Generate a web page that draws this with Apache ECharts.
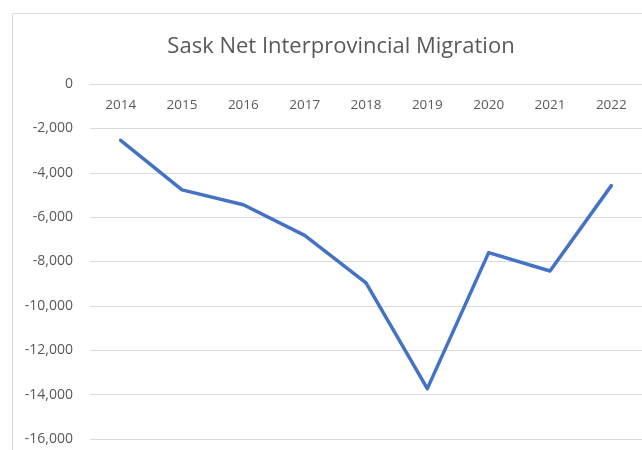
<!DOCTYPE html>
<html>
<head>
<meta charset="utf-8">
<script src="https://cdn.jsdelivr.net/npm/echarts@6/dist/echarts.min.js"></script>
<style>
  html, body { margin: 0; padding: 0; background: #fff; }
  #chart { width: 642px; height: 450px; }
</style>
</head>
<body>
<div id="chart"></div>
<script>
// Sask net interprovincial migration, by year
var years = ['2014', '2015', '2016', '2017', '2018', '2019', '2020', '2021', '2022']
var netMigration = [-2540, -4770, -5440, -6820, -8960, -13730, -7600, -8430, -4580]

var chart = echarts.init(document.getElementById('chart'))

function withCommas(v) {
  return String(v).replace(/\B(?=(\d{3})+(?!\d))/g, ',')
}

var option = {
  animation: false,
  title: {
    text: 'Sask Net Interprovincial Migration',
    left: 336,
    top: 31,
    textAlign: 'center',
    textStyle: {
      fontFamily: 'Open Sans',
      fontWeight: 'normal',
      fontSize: 22,
      color: '#595959'
    }
  },
  grid: {
    left: 90,
    right: 0,
    top: 84,
    bottom: 11,
    containLabel: false
  },
  xAxis: {
    type: 'category',
    position: 'top',
    data: years,
    boundaryGap: true,
    axisLine: { show: true, lineStyle: { color: '#d9d9d9' } },
    axisTick: { show: false },
    axisLabel: {
      inside: true,
      margin: 14,
      fontFamily: 'Open Sans',
      fontSize: 13.5,
      color: '#595959'
    }
  },
  yAxis: {
    type: 'value',
    min: -16000,
    max: 0,
    interval: 2000,
    axisLine: { show: false },
    axisTick: { show: false },
    splitLine: { lineStyle: { color: '#d9d9d9', width: 1 } },
    axisLabel: {
      margin: 17,
      fontFamily: 'Open Sans',
      fontSize: 14,
      color: '#595959',
      formatter: withCommas
    }
  },
  graphic: [
    {
      type: 'polyline',
      silent: true,
      shape: { points: [[12.5, 450], [12.5, 13.5], [642, 13.5]] },
      style: { stroke: '#d9d9d9', lineWidth: 1, fill: null }
    }
  ],
  series: [
    {
      name: 'Net Interprovincial Migration',
      type: 'line',
      data: netMigration,
      symbol: 'none',
      lineStyle: { color: '#4472C4', width: 3.5, cap: 'round', join: 'round' }
    }
  ]
}

chart.setOption(option)
</script>
</body>
</html>
